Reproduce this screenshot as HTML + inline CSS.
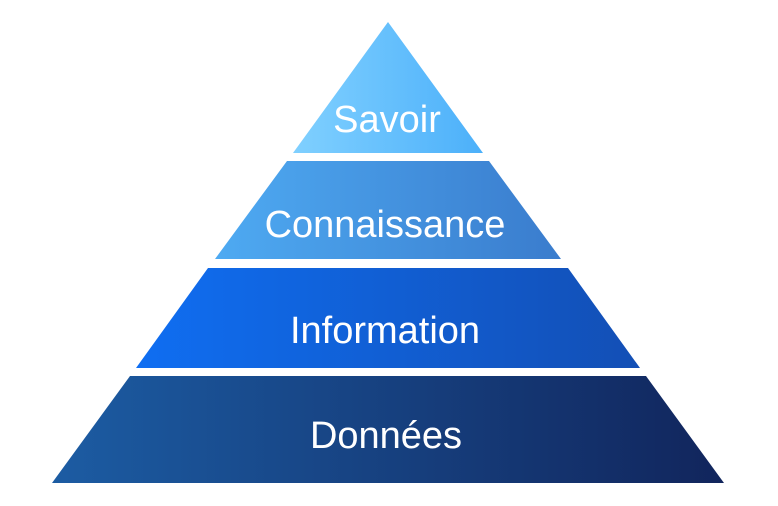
<!DOCTYPE html>
<html><head><style>html,body{margin:0;padding:0;background:#fff;width:778px;height:506px;overflow:hidden}</style></head>
<body>
<svg width="778" height="506" viewBox="0 0 778 506" xmlns="http://www.w3.org/2000/svg">
<defs>
<linearGradient id="g1" x1="0" x2="1"><stop offset="0" stop-color="#80d0ff"/><stop offset="1" stop-color="#4cb0fa"/></linearGradient>
<linearGradient id="g2" x1="0" x2="1"><stop offset="0" stop-color="#4eaaf2"/><stop offset="1" stop-color="#3a7ccd"/></linearGradient>
<linearGradient id="g3" x1="0" x2="1"><stop offset="0" stop-color="#0f6ef2"/><stop offset="1" stop-color="#134fb5"/></linearGradient>
<linearGradient id="g4" x1="0" x2="1"><stop offset="0" stop-color="#1c5ca3"/><stop offset="1" stop-color="#11255c"/></linearGradient>
</defs>
<polygon points="388,22 293,153 483,153" fill="url(#g1)"/>
<polygon points="287,161 489,161 561,259 215,259" fill="url(#g2)"/>
<polygon points="208,268 568,268 640,368 136,368" fill="url(#g3)"/>
<polygon points="130,376 646,376 724,483 52,483" fill="url(#g4)"/>
<g font-family="Liberation Sans, sans-serif" font-size="38" fill="#fff" text-anchor="middle">
<text x="387" y="132">Savoir</text>
<text x="385" y="237">Connaissance</text>
<text x="385" y="343">Information</text>
<text x="386" y="448">Données</text>
</g>
</svg>
</body></html>
